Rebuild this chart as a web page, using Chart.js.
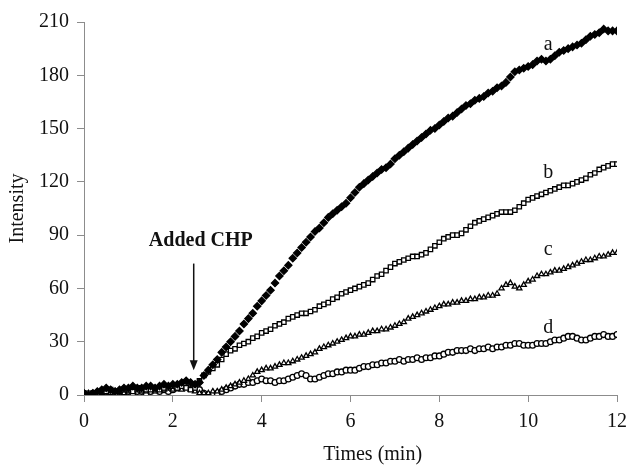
<!DOCTYPE html>
<html>
<head>
<meta charset="utf-8">
<script src="https://cdn.jsdelivr.net/npm/chart.js@4.4.0/dist/chart.umd.min.js"></script>
<style>
  html, body { margin: 0; padding: 0; background: #fff; }
  #wrap { width: 630px; height: 467px; }
</style>
</head>
<body>
<div id="wrap"><canvas id="chart" width="630" height="467"></canvas></div>
<script>
// --- DATA ---
const times = [
  0.0, 0.1, 0.2, 0.3, 0.4, 0.5, 0.6, 0.7, 0.8, 0.9,
  1.0, 1.1, 1.2, 1.3, 1.4, 1.5, 1.6, 1.7, 1.8, 1.9,
  2.0, 2.1, 2.2, 2.3, 2.4, 2.5, 2.6, 2.7, 2.8, 2.9,
  3.0, 3.1, 3.2, 3.3, 3.4, 3.5, 3.6, 3.7, 3.8, 3.9,
  4.0, 4.1, 4.2, 4.3, 4.4, 4.5, 4.6, 4.7, 4.8, 4.9,
  5.0, 5.1, 5.2, 5.3, 5.4, 5.5, 5.6, 5.7, 5.8, 5.9,
  6.0, 6.1, 6.2, 6.3, 6.4, 6.5, 6.6, 6.7, 6.8, 6.9,
  7.0, 7.1, 7.2, 7.3, 7.4, 7.5, 7.6, 7.7, 7.8, 7.9,
  8.0, 8.1, 8.2, 8.3, 8.4, 8.5, 8.6, 8.7, 8.8, 8.9,
  9.0, 9.1, 9.2, 9.3, 9.4, 9.5, 9.6, 9.7, 9.8, 9.9,
  10.0, 10.1, 10.2, 10.3, 10.4, 10.5, 10.6, 10.7, 10.8, 10.9,
  11.0, 11.1, 11.2, 11.3, 11.4, 11.5, 11.6, 11.7, 11.8, 11.9,
  12.0
];

const seriesA = [
  1, 0, 1, 2, 3, 4, 3, 2, 3, 4,
  4, 5, 4, 4, 5, 5, 4, 5, 6, 5,
  6, 6, 7, 8, 7, 6, 7, 11, 14, 17,
  20, 24, 27, 30, 33, 36, 40, 43, 46, 50,
  53, 56, 59, 63, 67, 70, 73, 77, 80, 83,
  86, 89, 92, 94, 97, 100, 102, 104, 106, 108,
  111, 114, 117, 119, 121, 123, 125, 127, 128, 130,
  133, 135, 137, 139, 141, 143, 145, 147, 149, 150,
  152, 154, 156, 157, 159, 161, 163, 164, 166, 167,
  168, 170, 171, 173, 174, 176, 179, 182, 183, 184,
  185, 186, 188, 189, 188, 189, 191, 193, 194, 195,
  196, 197, 198, 200, 202, 203, 204, 206, 205, 205,
  205
];

const seriesB = [
  0, 1, 0, 1, 2, 2, 3, 2, 2, 3,
  3, 2, 3, 4, 3, 3, 4, 3, 4, 4,
  5, 4, 5, 4, 3, 4, 8, 11, 13, 15,
  17, 20, 23, 25, 26, 28, 29, 30, 32, 33,
  35, 36, 37, 39, 40, 41, 43, 44, 45, 46,
  46, 47, 48, 50, 51, 52, 54, 55, 57, 58,
  59, 60, 61, 62, 63, 65, 67, 68, 70, 72,
  74, 75, 76, 77, 78, 78, 79, 80, 82, 84,
  86, 88, 89, 90, 90, 91, 93, 95, 97, 98,
  99, 100, 101, 102, 103, 103, 103, 104, 106, 108,
  110, 111, 112, 113, 114, 115, 116, 117, 118, 118,
  119, 120, 121, 122, 124, 125, 127, 128, 129, 130,
  130
];

const seriesC = [
  0, 1, 0, 1, 1, 2, 1, 2, 2, 1,
  2, 2, 3, 2, 2, 3, 2, 3, 3, 4,
  3, 4, 3, 4, 3, 2, 1, 1, 1, 2,
  2, 3, 4, 5, 6, 7, 8, 9, 11, 13,
  14, 15, 15, 16, 17, 18, 18, 19, 20, 21,
  22, 23, 24, 26, 27, 28, 29, 30, 31, 32,
  33, 33, 34, 34, 35, 36, 36, 37, 37, 38,
  39, 40, 41, 43, 44, 45, 46, 47, 48, 49,
  50, 51, 51, 52, 52, 53, 53, 54, 54, 55,
  55, 56, 56, 57, 60, 62, 63, 61, 60, 62,
  64, 65, 67, 68, 68, 69, 70, 70, 71, 72,
  73, 74, 75, 76, 76, 77, 78, 78, 79, 80,
  80
];

const seriesD = [
  1, 0, 1, 0, 1, 2, 1, 1, 2, 1,
  2, 1, 2, 2, 1, 2, 3, 2, 3, 2,
  3, 4, 5, 6, 6, 5, 3, 1, 0, 0,
  1, 2, 3, 4, 5, 6, 6, 7, 7, 8,
  9, 8, 8, 7, 8, 8, 9, 10, 11, 12,
  11, 9, 9, 10, 11, 12, 12, 13, 13, 14,
  14, 14, 15, 16, 16, 17, 17, 18, 18, 19,
  19, 20, 19, 20, 20, 21, 20, 21, 21, 22,
  22, 23, 24, 24, 25, 25, 25, 26, 25, 26,
  26, 27, 26, 27, 27, 28, 28, 29, 29, 28,
  28, 28, 29, 29, 29, 30, 31, 31, 32, 33,
  33, 32, 31, 31, 32, 33, 33, 34, 33, 33,
  34
];

const xTicks = { min: 0, max: 12, step: 2 };
const yTicks = { min: 0, max: 210, step: 30 };

const xTitle = "Times (min)";
const yTitle = "Intensity";
const seriesLabels = ["a", "b", "c", "d"];
// where the letters sit, in data units
const labelSpots = [[10.45, 197], [10.45, 125], [10.45, 82], [10.45, 38]];
const eventText = "Added CHP";
const eventTime = 2.47;

// --- HELPERS ---
const toPoints = vals => vals.map((v, i) => ({ x: times[i], y: v }));
const serif = "'Liberation Serif', 'DejaVu Serif', serif";
const axisGray = "#8c8c8c";
const ink = "#111";

// letters, arrow and x title drawn on top of the plot
const notesPlugin = {
  id: "notes",
  afterDatasetsDraw(chart) {
    const { ctx, scales } = chart;
    const xs = scales.x, ys = scales.y;
    ctx.save();
    ctx.fillStyle = ink;
    ctx.textAlign = "center";
    ctx.textBaseline = "middle";
    ctx.font = "20px " + serif;
    seriesLabels.forEach((lab, i) => {
      ctx.fillText(lab, xs.getPixelForValue(labelSpots[i][0]), ys.getPixelForValue(labelSpots[i][1]));
    });

    // x axis title (sits a bit right of centre in the original)
    ctx.fillText(xTitle, xs.getPixelForValue(6.5), 455);

    // event label + arrow
    ctx.font = "bold 20px " + serif;
    ctx.fillText(eventText, xs.getPixelForValue(2.63), ys.getPixelForValue(87));
    const ax = xs.getPixelForValue(eventTime);
    const yTop = ys.getPixelForValue(74);
    const yTip = ys.getPixelForValue(14);
    ctx.strokeStyle = ink;
    ctx.lineWidth = 1.5;
    ctx.beginPath();
    ctx.moveTo(ax, yTop);
    ctx.lineTo(ax, yTip - 6);
    ctx.stroke();
    ctx.beginPath();
    ctx.moveTo(ax, yTip);
    ctx.lineTo(ax - 4, yTip - 10);
    ctx.lineTo(ax + 4, yTip - 10);
    ctx.closePath();
    ctx.fill();
    ctx.restore();
  }
};

function makeSet(label, vals, style, fill, radius) {
  return {
    label: label,
    data: toPoints(vals),
    showLine: false,
    pointStyle: style,
    pointRadius: radius,
    pointBorderWidth: 1.3,
    pointBorderColor: "#000",
    pointBackgroundColor: fill,
    borderColor: "#000",
    backgroundColor: fill
  };
}

// --- CHART ---
new Chart(document.getElementById("chart"), {
  type: "scatter",
  data: {
    datasets: [
      makeSet("a", seriesA, "rectRot", "#000", 3.6),
      makeSet("b", seriesB, "rect", "#fff", 3.1),
      makeSet("c", seriesC, "triangle", "#fff", 3.0),
      makeSet("d", seriesD, "circle", "#fff", 2.9)
    ]
  },
  options: {
    responsive: false,
    animation: false,
    layout: { padding: { top: 22, right: 13, bottom: 0, left: 0 } },
    plugins: { legend: { display: false }, tooltip: { enabled: false } },
    scales: {
      x: {
        type: "linear",
        min: xTicks.min,
        max: xTicks.max,
        afterFit: s => { s.height = 72; s.paddingLeft = 0; s.paddingRight = 0; },
        ticks: { stepSize: xTicks.step, color: ink, font: { family: serif, size: 20 }, padding: 8, maxRotation: 0 },
        grid: { drawOnChartArea: false, drawTicks: true, tickLength: 7, color: axisGray },
        border: { color: axisGray, width: 1 }
      },
      y: {
        min: yTicks.min,
        max: yTicks.max,
        afterFit: s => { s.width = 84; s.paddingTop = 0; s.paddingBottom = 0; },
        ticks: { stepSize: yTicks.step, color: ink, font: { family: serif, size: 20 }, padding: 8 },
        grid: { drawOnChartArea: false, drawTicks: true, tickLength: 7, color: axisGray },
        border: { color: axisGray, width: 1 },
        title: { display: true, text: yTitle, color: ink, font: { family: serif, size: 20 }, padding: { top: 6, bottom: 0 } }
      }
    }
  },
  plugins: [notesPlugin]
});
</script>
</body>
</html>
